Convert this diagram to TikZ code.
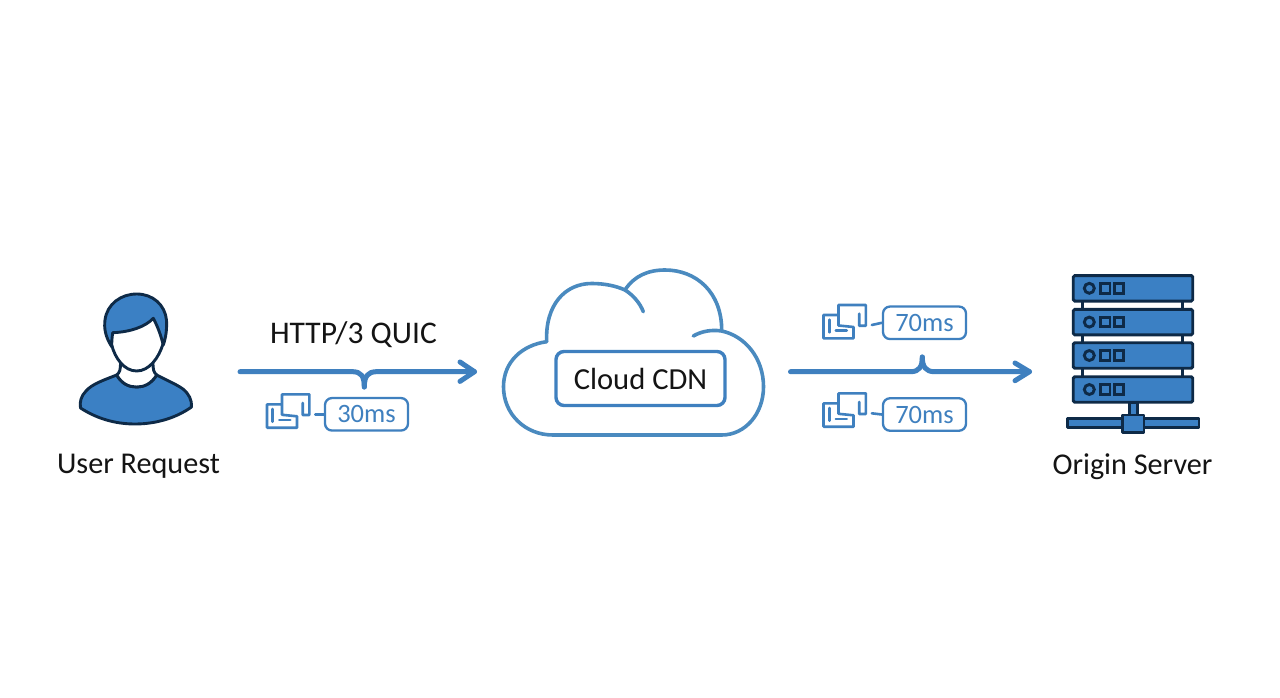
\documentclass[tikz,border=0pt]{standalone}
\usepackage{fontspec}
\setmainfont{Carlito}
\definecolor{fillblue}{HTML}{3B80C4}
\definecolor{linkblue}{HTML}{3F80BF}
\definecolor{cloudblue}{HTML}{4A8ABF}
\definecolor{ink}{HTML}{0E2A47}
\definecolor{txt}{HTML}{141414}
\tikzset{
  x=1pt,y=-1pt,
  label text/.style={text=txt,font=\fontsize{30.2}{33}\selectfont,inner sep=0pt},
  flow/.style={draw=linkblue,line width=5pt,line cap=round,line join=round},
  ms box/.style={draw=linkblue,line width=2.3pt,rounded corners=7pt,text=linkblue,font=\fontsize{26.5}{29}\selectfont,minimum width=83pt,minimum height=32.5pt,inner sep=0pt},
  thin link/.style={draw=linkblue,line width=2.6pt,line cap=round,line join=round},
  outlined/.style={draw=ink,fill=fillblue,line width=2.9pt,line join=round},
  unit/.style={draw=ink,fill=fillblue,line width=2.9pt,rounded corners=1.5pt,minimum width=119.5pt,minimum height=25.5pt,inner sep=0pt},
  windows/.pic={
    \draw[thin link] (15,0) -- (0,0) -- (0,23.4) -- (30,23.4) -- (30,12) -- (15,10.5) -- (15,0) -- (15,-10) -- (42.3,-10) -- (42.3,10.7) -- (35.7,10.7) -- (35.7,-1.3);
    \draw[thin link] (5.7,4.7) -- (5.7,17.4) (12.3,15.7) -- (23.3,15.7);
    \coordinate (-out) at (48.3,10);
  }
}
\begin{document}
\begin{tikzpicture}
\useasboundingbox (0,0) rectangle (1280,698);
\fill[white] (0,0) rectangle (1280,698);

% user
\draw[outlined] (116.7,375) .. controls (104,380) and (92,384) .. (86,391)
  .. controls (81,396) and (79.5,402) .. (80.5,408)
  .. controls (96,418) and (114,424) .. (135,424)
  .. controls (156,424) and (176,418) .. (191.5,407)
  .. controls (192,400) and (189,394) .. (183,389)
  .. controls (176,384) and (166,380) .. (156.7,375)
  .. controls (151,384) and (144,387) .. (136.7,387)
  .. controls (129,387) and (122,384) .. (116.7,375) -- cycle;
\draw[draw=ink,fill=white,line width=2.9pt,line join=round] (116.7,375)
  .. controls (120,372) and (120.5,370) .. (120.5,362) -- (153,362)
  .. controls (153,370) and (153.5,372) .. (156.7,375)
  .. controls (151,384) and (144,387) .. (136.7,387)
  .. controls (129,387) and (122,384) .. (116.7,375) -- cycle;
\fill[white] (111.7,335)
  .. controls (110,352) and (120,371) .. (136.7,371)
  .. controls (153,371) and (164,352) .. (163.5,335) -- (150,315) -- (115,325) -- cycle;
\draw[draw=ink,line width=2.9pt] (111.7,345)
  .. controls (115,358) and (124,371) .. (136.7,371)
  .. controls (149,371) and (159,358) .. (163.3,343);
\draw[outlined] (111.7,346.7)
  .. controls (105,336) and (104,328) .. (105,320)
  .. controls (107,304) and (121,294) .. (136.7,294)
  .. controls (153,294) and (165,305) .. (166.5,320)
  .. controls (167,329) and (166,337) .. (163.3,345)
  .. controls (161,336) and (158,327) .. (153.3,318.3)
  .. controls (145,327) and (130,332) .. (112.7,332.7)
  .. controls (112,337) and (111.7,342) .. (111.7,346.7) -- cycle;
\node[label text] (userlabel) at (138.5,466.5) {User Request};

% left arrow
\coordinate (a1s) at (240,371.7);
\coordinate (a1l) at (353,371.7);
\coordinate (a1b) at (364.3,387);
\coordinate (a1r) at (376,371.7);
\coordinate (a1e) at (474.5,371.7);
\coordinate (a1t1) at (460,362);
\coordinate (a1t2) at (460,381.4);
\draw[flow] (a1s) -- (a1l) .. controls (361,372) and (364.3,376) .. (a1b);
\draw[flow] (a1b) .. controls (364.3,376) and (368,372) .. (a1r) -- (a1e);
\draw[flow] (a1t1) -- (a1e) -- (a1t2);
\node[label text,font=\fontsize{31.5}{34}\selectfont] (http) at (353.5,334.5) {HTTP/3 QUIC};
\pic (i1) at (267,404.3) {windows};
\node[ms box] (b1) at (366.5,414.3) {30ms};
\draw[thin link] (i1-out) -- (b1.west);

% cloud
\draw[draw=cloudblue,line width=3.6pt,line cap=round,line join=round,fill=white]
  (546.7,341.7)
  .. controls (545,305) and (565,283.5) .. (591.7,283.5)
  .. controls (605,283.5) and (616,286) .. (625,290)
  .. controls (634,276) and (648,270) .. (665,270)
  .. controls (696,270) and (722,292) .. (721.7,331)
  .. controls (745,336) and (763.5,358) .. (763.5,386.7)
  .. controls (763.5,414) and (745,435) .. (721.7,435)
  -- (553,435)
  .. controls (525,435) and (503.5,414) .. (503.5,386.7)
  .. controls (503.5,362) and (522,345) .. (546.7,341.7) -- cycle;
\draw[draw=cloudblue,line width=3.6pt,line cap=round] (625,290) .. controls (633,295) and (640,303) .. (643.3,311.7);
\draw[draw=cloudblue,line width=3.6pt,line cap=round] (693.3,336) .. controls (702,331) and (712,329.5) .. (721.7,331);
\node[draw=linkblue,line width=3.4pt,rounded corners=8pt,minimum width=169pt,minimum height=54pt,inner sep=0pt,text=txt,font=\fontsize{30.6}{33}\selectfont] (cdn) at (640.5,378.5) {Cloud CDN};

% right arrow
\coordinate (a2s) at (790.5,371.7);
\coordinate (a2l) at (911,371.7);
\coordinate (a2b) at (922.3,357);
\coordinate (a2r) at (934,371.7);
\coordinate (a2e) at (1029.5,371.7);
\coordinate (a2t1) at (1015,363);
\coordinate (a2t2) at (1015,380.7);
\draw[flow] (a2s) -- (a2l) .. controls (919,371.5) and (922.3,367) .. (a2b);
\draw[flow] (a2b) .. controls (922.3,367) and (926,371.5) .. (a2r) -- (a2e);
\draw[flow] (a2t1) -- (a2e) -- (a2t2);
\pic (i2) at (823.5,315) {windows};
\node[ms box] (b2) at (924.5,322.8) {70ms};
\draw[thin link] (i2-out) -- (b2.west);
\pic (i3) at (823.5,403.3) {windows};
\node[ms box] (b3) at (924.5,414.5) {70ms};
\draw[thin link] (i3-out) -- (b3.west);

% server
\draw[draw=ink,line width=3pt] (1082.7,300) -- (1082.7,378) (1182.7,300) -- (1182.7,378);
\foreach \n/\y in {1/288.3,2/322.1,3/355.5,4/389.5}{
  \node[unit] (u\n) at (1133,\y) {};
  \draw[draw=ink,line width=2.9pt] (1089.3,\y) circle (5);
  \draw[draw=ink,line width=2.9pt] (1100.3,\y-4.8) rectangle (1110,\y+4.8);
  \draw[draw=ink,line width=2.9pt] (1114.2,\y-4.8) rectangle (1123.9,\y+4.8);
}
\draw[outlined] (1129.3,402.3) rectangle (1137.3,416);
\draw[outlined] (1067.3,418.3) rectangle (1199,427.7);
\draw[outlined] (1122.3,415) rectangle (1144,432.7);
\node[label text] (originlabel) at (1132.5,466.5) {Origin Server};
\end{tikzpicture}
\end{document}
